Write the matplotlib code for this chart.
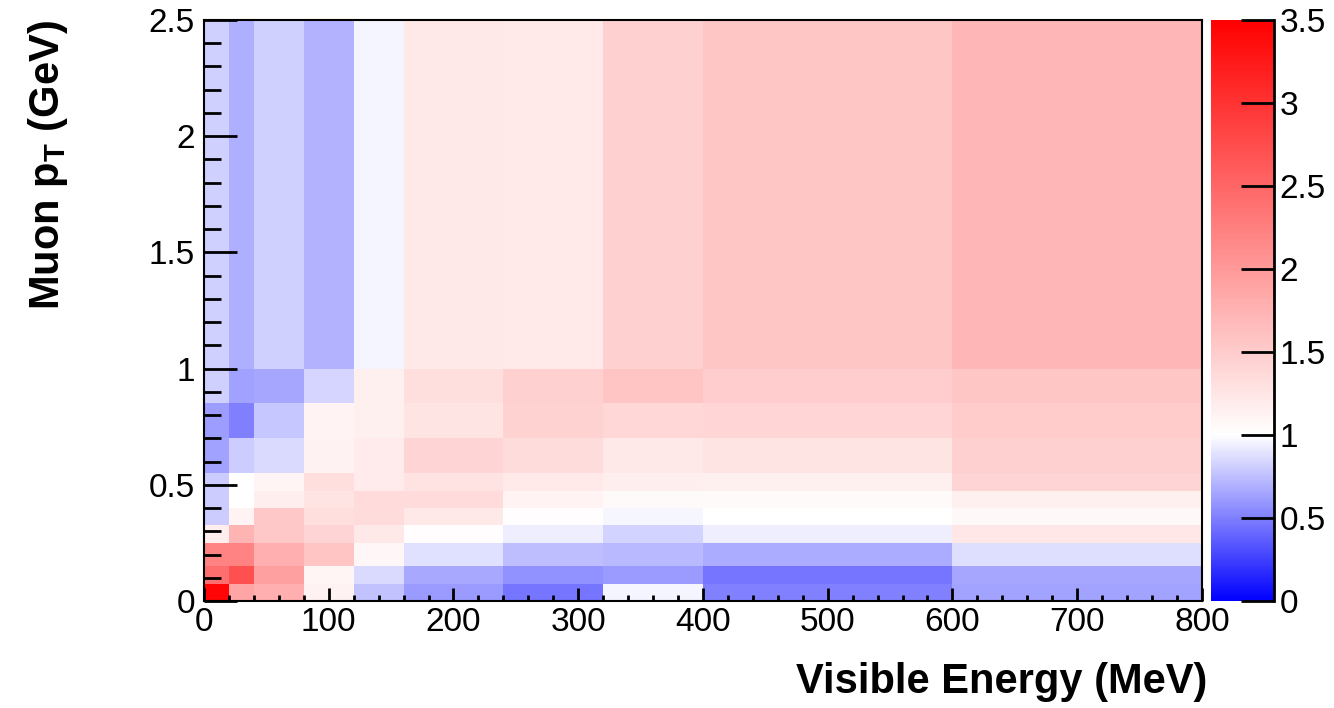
import matplotlib

matplotlib.use("Agg")

import matplotlib.pyplot as plt
import numpy as np
from matplotlib.colors import LinearSegmentedColormap, Normalize
from matplotlib.ticker import MultipleLocator

plt.rcParams["font.family"] = ["Liberation Sans", "DejaVu Sans"]
plt.rcParams["mathtext.fontset"] = "custom"
plt.rcParams["mathtext.rm"] = "Liberation Sans"
plt.rcParams["mathtext.bf"] = "Liberation Sans:bold"

# variable bin edges
energy_edges = [0, 20, 40, 80, 120, 160, 240, 320, 400, 600, 800]  # MeV
pt_edges = [0, 0.075, 0.15, 0.25, 0.325, 0.4, 0.475, 0.55, 0.7, 0.85, 1.0, 2.5]  # GeV

# ratio per bin, one row per pT bin (bottom -> top), columns follow energy bins
ratio_pt0 = [3.45, 1.88, 1.78, 1.13, 0.76, 0.61, 0.46, 0.96, 0.51, 0.64]
ratio_pt1 = [2.42, 2.72, 1.93, 1.10, 0.86, 0.66, 0.57, 0.61, 0.46, 0.65]
ratio_pt2 = [2.22, 2.22, 1.78, 1.58, 1.08, 0.88, 0.75, 0.73, 0.67, 0.87]
ratio_pt3 = [1.17, 1.73, 1.54, 1.42, 1.23, 1.02, 0.93, 0.83, 0.93, 1.24]
ratio_pt4 = [0.80, 1.12, 1.54, 1.32, 1.34, 1.23, 1.02, 0.97, 1.00, 1.07]
ratio_pt5 = [0.80, 1.00, 1.17, 1.26, 1.36, 1.36, 1.12, 1.05, 1.05, 1.15]
ratio_pt6 = [0.80, 1.00, 1.10, 1.32, 1.20, 1.29, 1.21, 1.17, 1.15, 1.42]
ratio_pt7 = [0.63, 0.80, 0.86, 1.13, 1.19, 1.42, 1.34, 1.23, 1.26, 1.46]
ratio_pt8 = [0.62, 0.50, 0.78, 1.12, 1.15, 1.26, 1.44, 1.39, 1.41, 1.51]
ratio_pt9 = [0.82, 0.63, 0.65, 0.84, 1.15, 1.32, 1.46, 1.58, 1.49, 1.56]
ratio_pt10 = [0.82, 0.69, 0.82, 0.70, 0.96, 1.23, 1.22, 1.46, 1.56, 1.72]

ratio = np.array([ratio_pt0, ratio_pt1, ratio_pt2, ratio_pt3, ratio_pt4, ratio_pt5,
                  ratio_pt6, ratio_pt7, ratio_pt8, ratio_pt9, ratio_pt10])

zmin, zwhite, zmax = 0.0, 1.0, 3.5
cmap = LinearSegmentedColormap.from_list(
    "bwr_root", [(0.0, "#0000ff"), (zwhite / zmax, "#ffffff"), (1.0, "#ff0000")], N=512)
norm = Normalize(vmin=zmin, vmax=zmax)

fig = plt.figure(figsize=(13.34, 7.08), dpi=100)
ax = fig.add_axes([0.1529, 0.1511, 0.7481, 0.8207])
cax = fig.add_axes([0.9078, 0.1511, 0.0472, 0.8207])

mesh = ax.pcolormesh(energy_edges, pt_edges, ratio, cmap=cmap, norm=norm, shading="flat")
ax.set_xlim(0, 800)
ax.set_ylim(0, 2.5)

ax.xaxis.set_major_locator(MultipleLocator(100))
ax.xaxis.set_minor_locator(MultipleLocator(20))
ax.yaxis.set_major_locator(MultipleLocator(0.5))
ax.yaxis.set_minor_locator(MultipleLocator(0.1))
ax.yaxis.set_major_formatter(lambda v, p: f"{v:g}")
ax.tick_params(axis="both", which="both", direction="in", top=False, right=False,
               width=2, labelsize=24, color="black")
ax.tick_params(axis="x", which="major", length=9.5, pad=4.5)
ax.tick_params(axis="x", which="minor", length=4.5)
ax.tick_params(axis="y", which="major", length=24, pad=6.5)
ax.tick_params(axis="y", which="minor", length=12)
for spine in ax.spines.values():
    spine.set_linewidth(1.5)

cb = fig.colorbar(mesh, cax=cax)
cb.outline.set_visible(False)
cb.set_ticks([0, 0.5, 1, 1.5, 2, 2.5, 3, 3.5])
cb.ax.yaxis.set_major_formatter(lambda v, p: f"{v:g}")
cb.ax.tick_params(direction="in", length=24, width=2, labelsize=24, pad=4)
cb.ax.minorticks_off()
cb.ax.axvline(1.0, color="black", linewidth=2, clip_on=False)

fig.text(0.905, 0.021, "Visible Energy (MeV)", ha="right", va="baseline",
         fontsize=30, fontweight="bold")
fig.text(0.036, 0.972, r"Muon p$_{\mathbf{T}}$ (GeV)", ha="center", va="top",
         rotation=90, fontsize=30, fontweight="bold")

fig.savefig("out.png", dpi=100)
plt.close(fig)
